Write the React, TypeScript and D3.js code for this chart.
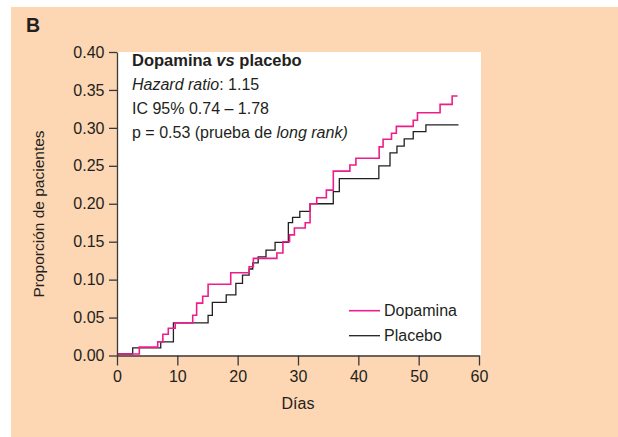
import React, { useRef, useEffect } from 'react';
import * as d3 from 'd3';

// Kaplan-Meier style cumulative proportion
const dopaminaDias = [0, 3.7, 6.75, 7.6, 8.5, 9.65, 12.55, 13.2, 14.2, 15.1, 18.85, 21.9, 22.6, 26.5, 27.5, 28.6, 29.4, 31.2, 32.0, 33.1, 34.7, 35.85, 38.6, 39.6, 43.45, 44.1, 45.5, 46.3, 49.1, 49.8, 53.55, 55.55, 56.45];
const dopaminaProp = [0.002, 0.011, 0.018, 0.028, 0.036, 0.043, 0.053, 0.069, 0.078, 0.094, 0.109, 0.117, 0.128, 0.135, 0.150, 0.159, 0.168, 0.175, 0.200, 0.208, 0.218, 0.243, 0.251, 0.260, 0.275, 0.285, 0.293, 0.302, 0.310, 0.320, 0.331, 0.342, 0.342];

const placeboDias = [0, 2.6, 7.25, 9.35, 15.1, 15.8, 18.1, 19.7, 20.8, 21.9, 22.5, 23.4, 24.7, 26.2, 28.4, 29.1, 30.3, 32.0, 35.85, 36.85, 43.4, 45.25, 46.4, 47.6, 49.1, 51.2, 56.6];
const placeboProp = [0.002, 0.010, 0.018, 0.043, 0.053, 0.070, 0.080, 0.095, 0.106, 0.114, 0.122, 0.130, 0.139, 0.149, 0.175, 0.182, 0.190, 0.200, 0.216, 0.233, 0.250, 0.267, 0.276, 0.2856, 0.295, 0.304, 0.304];

const xTicks = [0, 10, 20, 30, 40, 50, 60];
const yTicks = [0, 0.05, 0.1, 0.15, 0.2, 0.25, 0.3, 0.35, 0.4];

const series = [
  { name: 'Dopamina', dias: dopaminaDias, prop: dopaminaProp, color: '#ec1e8c', width: 1.6 },
  { name: 'Placebo', dias: placeboDias, prop: placeboProp, color: '#231f20', width: 1.3 },
];

const App = () => {
  const svgRef = useRef(null);

  useEffect(() => {
    const svg = d3.select(svgRef.current);
    svg.selectAll('*').remove();

    const ink = '#231f20';
    const font = '"Liberation Sans", Arial, Helvetica, sans-serif';

    // panel background
    svg.append('rect')
      .attr('x', 11).attr('y', 7)
      .attr('width', 607).attr('height', 430)
      .attr('fill', '#fdd6b3');

    const x = d3.scaleLinear().domain([0, 60]).range([117, 479]);
    const y = d3.scaleLinear().domain([0, 0.4]).range([355.5, 52]);

    // plot area
    svg.append('rect')
      .attr('x', x(0)).attr('y', y(0.4))
      .attr('width', x(60) - x(0) + 2).attr('height', y(0) - y(0.4))
      .attr('fill', '#fff');

    // the step curves
    const line = d3.line()
      .x((d) => x(d[0]))
      .y((d) => y(d[1]))
      .curve(d3.curveStepAfter);

    series.slice().reverse().forEach((s) => {
      svg.append('path')
        .attr('d', line(s.dias.map((d, i) => [d, s.prop[i]])))
        .attr('fill', 'none')
        .attr('stroke', s.color)
        .attr('stroke-width', s.width);
    });

    // axes
    const yAxis = svg.append('g')
      .attr('transform', `translate(${x(0)},0)`)
      .call(d3.axisLeft(y).tickValues(yTicks).tickFormat(d3.format('.2f')).tickSize(8).tickSizeOuter(0).tickPadding(4.5));
    const xAxis = svg.append('g')
      .attr('transform', `translate(0,${y(0)})`)
      .call(d3.axisBottom(x).tickValues(xTicks).tickSize(10).tickSizeOuter(0).tickPadding(5));

    [yAxis, xAxis].forEach((g) => {
      g.selectAll('path, line').attr('stroke', '#3b3838').attr('stroke-width', 1.3);
      g.selectAll('text').attr('fill', ink).attr('font-size', 16).attr('font-family', font);
    });

    // axis titles
    svg.append('text')
      .attr('transform', `translate(44,214) rotate(-90)`)
      .attr('text-anchor', 'middle')
      .attr('font-family', font).attr('font-size', 15.5).attr('fill', ink)
      .text('Proporción de pacientes');

    svg.append('text')
      .attr('x', (x(0) + x(60)) / 2).attr('y', 409)
      .attr('text-anchor', 'middle')
      .attr('font-family', font).attr('font-size', 16).attr('fill', ink)
      .text('Días');

    // panel letter
    svg.append('text')
      .attr('x', 26).attr('y', 32)
      .attr('font-family', font).attr('font-size', 19.5).attr('font-weight', 'bold').attr('fill', ink)
      .text('B');

    // annotation block
    const note = svg.append('g').attr('font-family', font).attr('font-size', 16).attr('fill', ink);
    const t1 = note.append('text').attr('x', 132).attr('y', 66).attr('font-weight', 'bold').attr('font-size', 16.5);
    t1.append('tspan').text('Dopamina ');
    t1.append('tspan').attr('font-style', 'italic').text('vs');
    t1.append('tspan').text(' placebo');

    const t2 = note.append('text').attr('x', 132).attr('y', 89.5);
    t2.append('tspan').attr('font-style', 'italic').text('Hazard ratio');
    t2.append('tspan').text(': 1.15');

    note.append('text').attr('x', 132).attr('y', 113.5).text('IC 95% 0.74 – 1.78');

    const t4 = note.append('text').attr('x', 132).attr('y', 137.5);
    t4.append('tspan').text('p = 0.53 (prueba de ');
    t4.append('tspan').attr('font-style', 'italic').text('long rank)');

    // legend
    const legend = svg.append('g');
    series.forEach((s, i) => {
      const ly = 310.7 + i * 25;
      legend.append('line')
        .attr('x1', 349).attr('x2', 380)
        .attr('y1', ly).attr('y2', ly)
        .attr('stroke', s.color).attr('stroke-width', s.width);
      legend.append('text')
        .attr('x', 384).attr('y', ly + 5.5)
        .attr('font-family', font).attr('font-size', 16).attr('fill', ink)
        .text(s.name);
    });
  }, []);

  return (
    <svg ref={svgRef} width={618} height={437} style={{ position: 'absolute', left: 0, top: 0 }}>
    </svg>
  );
};

export default App;
